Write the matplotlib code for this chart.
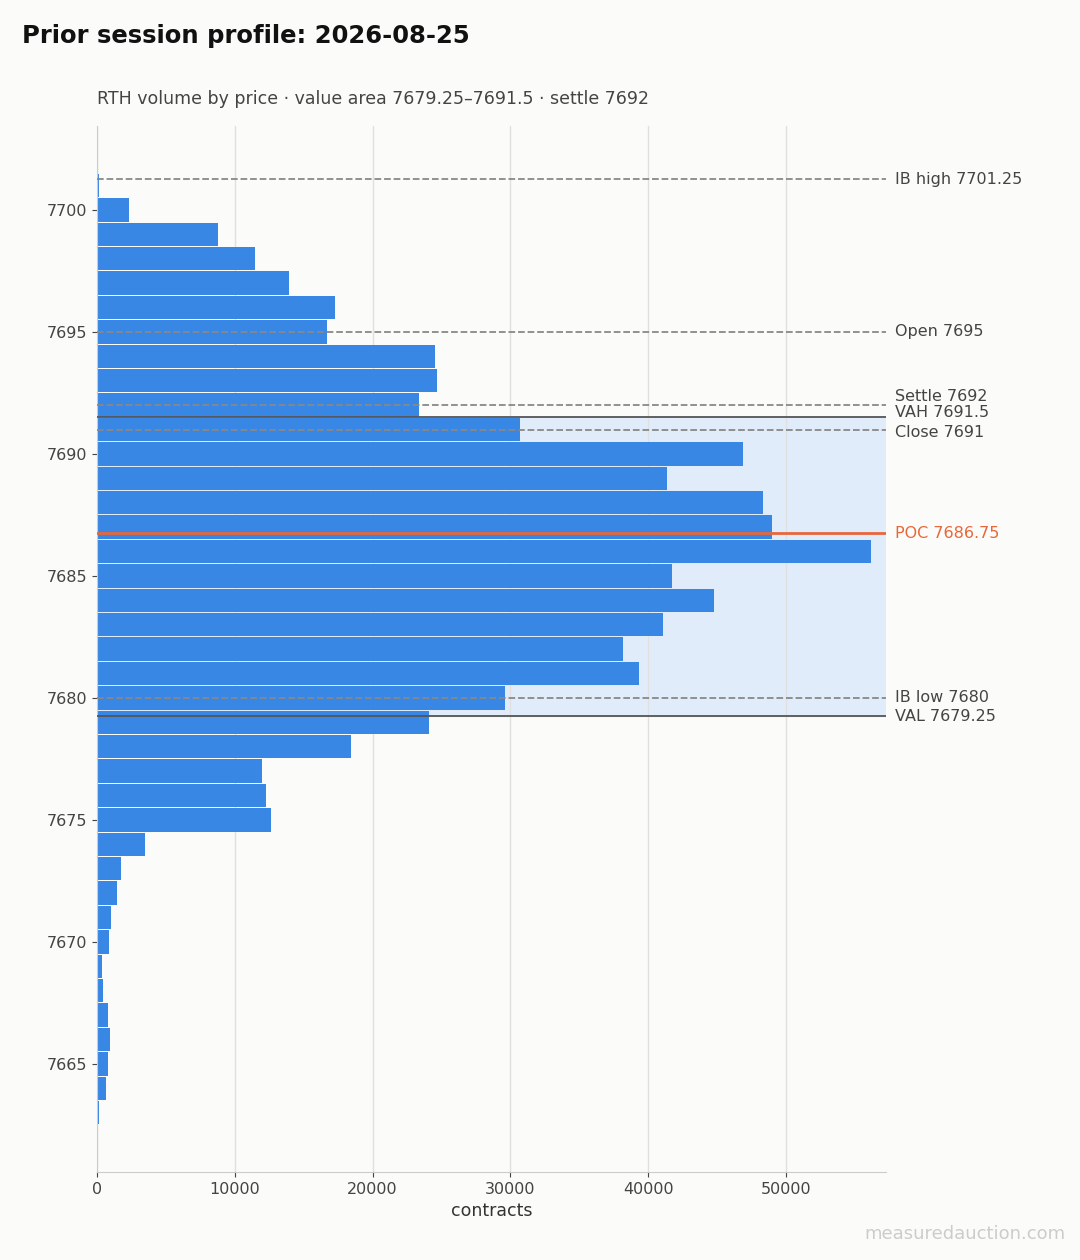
import matplotlib.pyplot as plt

plt.rcParams['font.family'] = ['DejaVu Sans']

prices = list(range(7701, 7662, -1))
volume = [150, 2300, 8800, 11500, 13900, 17300, 16700, 24500, 24700, 23400,
          30700, 46900, 41400, 48300, 49000, 56200, 41700, 44800, 41100, 38200,
          39300, 29600, 24100, 18400, 12000, 12300, 12600, 3500, 1750, 1450,
          1000, 850, 350, 450, 800, 950, 800, 650, 150]

val, vah, poc = 7679.25, 7691.5, 7686.75
dashed_levels = [("IB high 7701.25", 7701.25), ("Open 7695", 7695),
                 ("Settle 7692", 7692), ("Close 7691", 7691), ("IB low 7680", 7680)]

bg = '#fbfbf9'
fig = plt.figure(figsize=(10.8, 12.6), dpi=100, facecolor=bg)
ax = fig.add_axes([97/1080, 1-1172/1260, (886-97)/1080, (1172-126)/1260])
ax.set_facecolor(bg)
xmax = 57260
ax.set_xlim(0, xmax)
ax.set_ylim(7660.57, 7703.44)

ax.axhspan(val, vah, color='#e1ecfb', zorder=0)
ax.barh(prices, volume, height=0.96, color='#3987e5', zorder=2)

for label, y in dashed_levels:
    ax.axhline(y, color='#888888', ls='--', lw=1.3, zorder=3)
for label, y in [("VAH 7691.5", vah), ("VAL 7679.25", val)]:
    ax.axhline(y, color='#555555', lw=1.3, zorder=3)
ax.axhline(poc, color='#e8673a', lw=2, zorder=4)

labels = dashed_levels + [("VAH 7691.5", vah), ("VAL 7679.25", val)]
offsets = {"Settle 7692": 0.37, "Close 7691": -0.12, "VAH 7691.5": 0.2}
for label, y in labels:
    ax.text(xmax * 1.012, y + offsets.get(label, 0), label, va='center', ha='left',
            fontsize=11.5, color='#444444', clip_on=False)
ax.text(xmax * 1.012, poc, "POC 7686.75", va='center', ha='left', fontsize=11.5,
        color='#e8673a', clip_on=False)

ax.set_yticks([7665, 7670, 7675, 7680, 7685, 7690, 7695, 7700])
ax.set_xticks([0, 10000, 20000, 30000, 40000, 50000])
ax.tick_params(colors='#444444', labelsize=11.5)
ax.grid(axis='x', color='#e0e0e0', lw=1, zorder=1)
ax.set_axisbelow(True)
for s in ['top', 'right']:
    ax.spines[s].set_visible(False)
for s in ['left', 'bottom']:
    ax.spines[s].set_color('#cccccc')
ax.set_xlabel('contracts', fontsize=12.5, color='#333333')

fig.text(22/1080, 1-36/1260, 'Prior session profile: 2026-08-25', fontsize=17.5,
         fontweight='bold', va='center', ha='left', color='#111111')
fig.text(97/1080, 1-99/1260, 'RTH volume by price · value area 7679.25–7691.5 · settle 7692',
         fontsize=12.5, va='center', ha='left', color='#444444')
fig.text(1066/1080, 1-1234/1260, 'measuredauction.com', fontsize=13, color='#cccccc',
         ha='right', va='center')

fig.savefig('out.png', dpi=100, facecolor=bg)
